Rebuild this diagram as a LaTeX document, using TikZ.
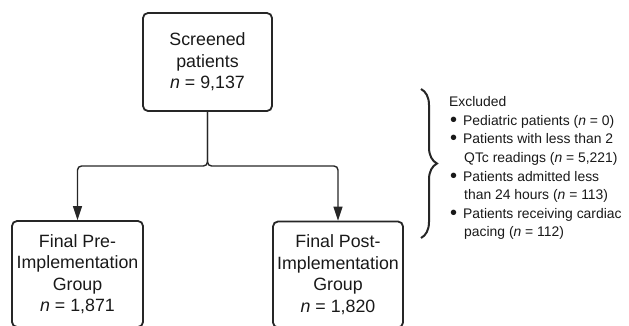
\documentclass[tikz,border=0pt]{standalone}
\usepackage{fontspec}
\setmainfont{Liberation Sans}
\usetikzlibrary{arrows.meta,decorations.pathreplacing}
\newcommand\excn[1]{(\textit{n} = #1)}
\newcommand\excb{\makebox[13pt][l]{\fontsize{20}{20}\selectfont\raisebox{-1pt}{•}}}
\begin{document}
\begin{tikzpicture}[x=1pt,y=-1pt,
  box/.style={draw=black!85, line width=1.8pt, rounded corners=5pt, align=center,
    font=\fontsize{17.8}{21.5}\selectfont, inner sep=0pt, text=black!90},
  conn/.style={draw=black!85, line width=1.4pt, rounded corners=4pt},
  arr/.style={-{Triangle[length=14pt,width=9pt]}},
  exc/.style={anchor=base west, inner sep=0pt, font=\fontsize{13.9}{18.6}\selectfont, text=black!90}]
\useasboundingbox (0,0) rectangle (629,325);
\clip (0,0) rectangle (629,325);
\node[box, minimum width=129pt, minimum height=98pt] (top) at (207.5,62) {Screened\\patients\\\textit{n} = 9,137};
\node[box, minimum width=131pt, minimum height=106pt] (pre) at (77.5,274) {Final Pre-\\Implementation\\Group\\\textit{n} = 1,871};
\node[box, minimum width=130pt, minimum height=106pt] (post) at (338,274.5) {Final Post-\\Implementation\\Group\\\textit{n} = 1,820};
\coordinate (j) at (207.5,166);
\draw[conn, arr] (top.south) -- (j) -| (pre.north);
\draw[conn, arr] (top.south) -- (j) -| (post.north);
\draw[draw=black!85, line width=2pt, decorate, decoration={brace, amplitude=16pt}] (421,89) -- (421,238);
\node[exc] (e0) at (449,106.5) {Excluded};
\node[exc] (e1) at (450,125) {\excb Pediatric patients \excn{0}};
\node[exc] (e2) at (450,143.7) {\excb Patients with less than 2};
\node[exc] (e3) at (464,162.3) {QTc readings \excn{5,221}};
\node[exc] (e4) at (450,181) {\excb Patients admitted less};
\node[exc] (e5) at (464,199.5) {than 24 hours \excn{113}};
\node[exc] (e6) at (450,218) {\excb Patients receiving cardiac};
\node[exc] (e7) at (464,236.7) {pacing \excn{112}};
\end{tikzpicture}
\end{document}
